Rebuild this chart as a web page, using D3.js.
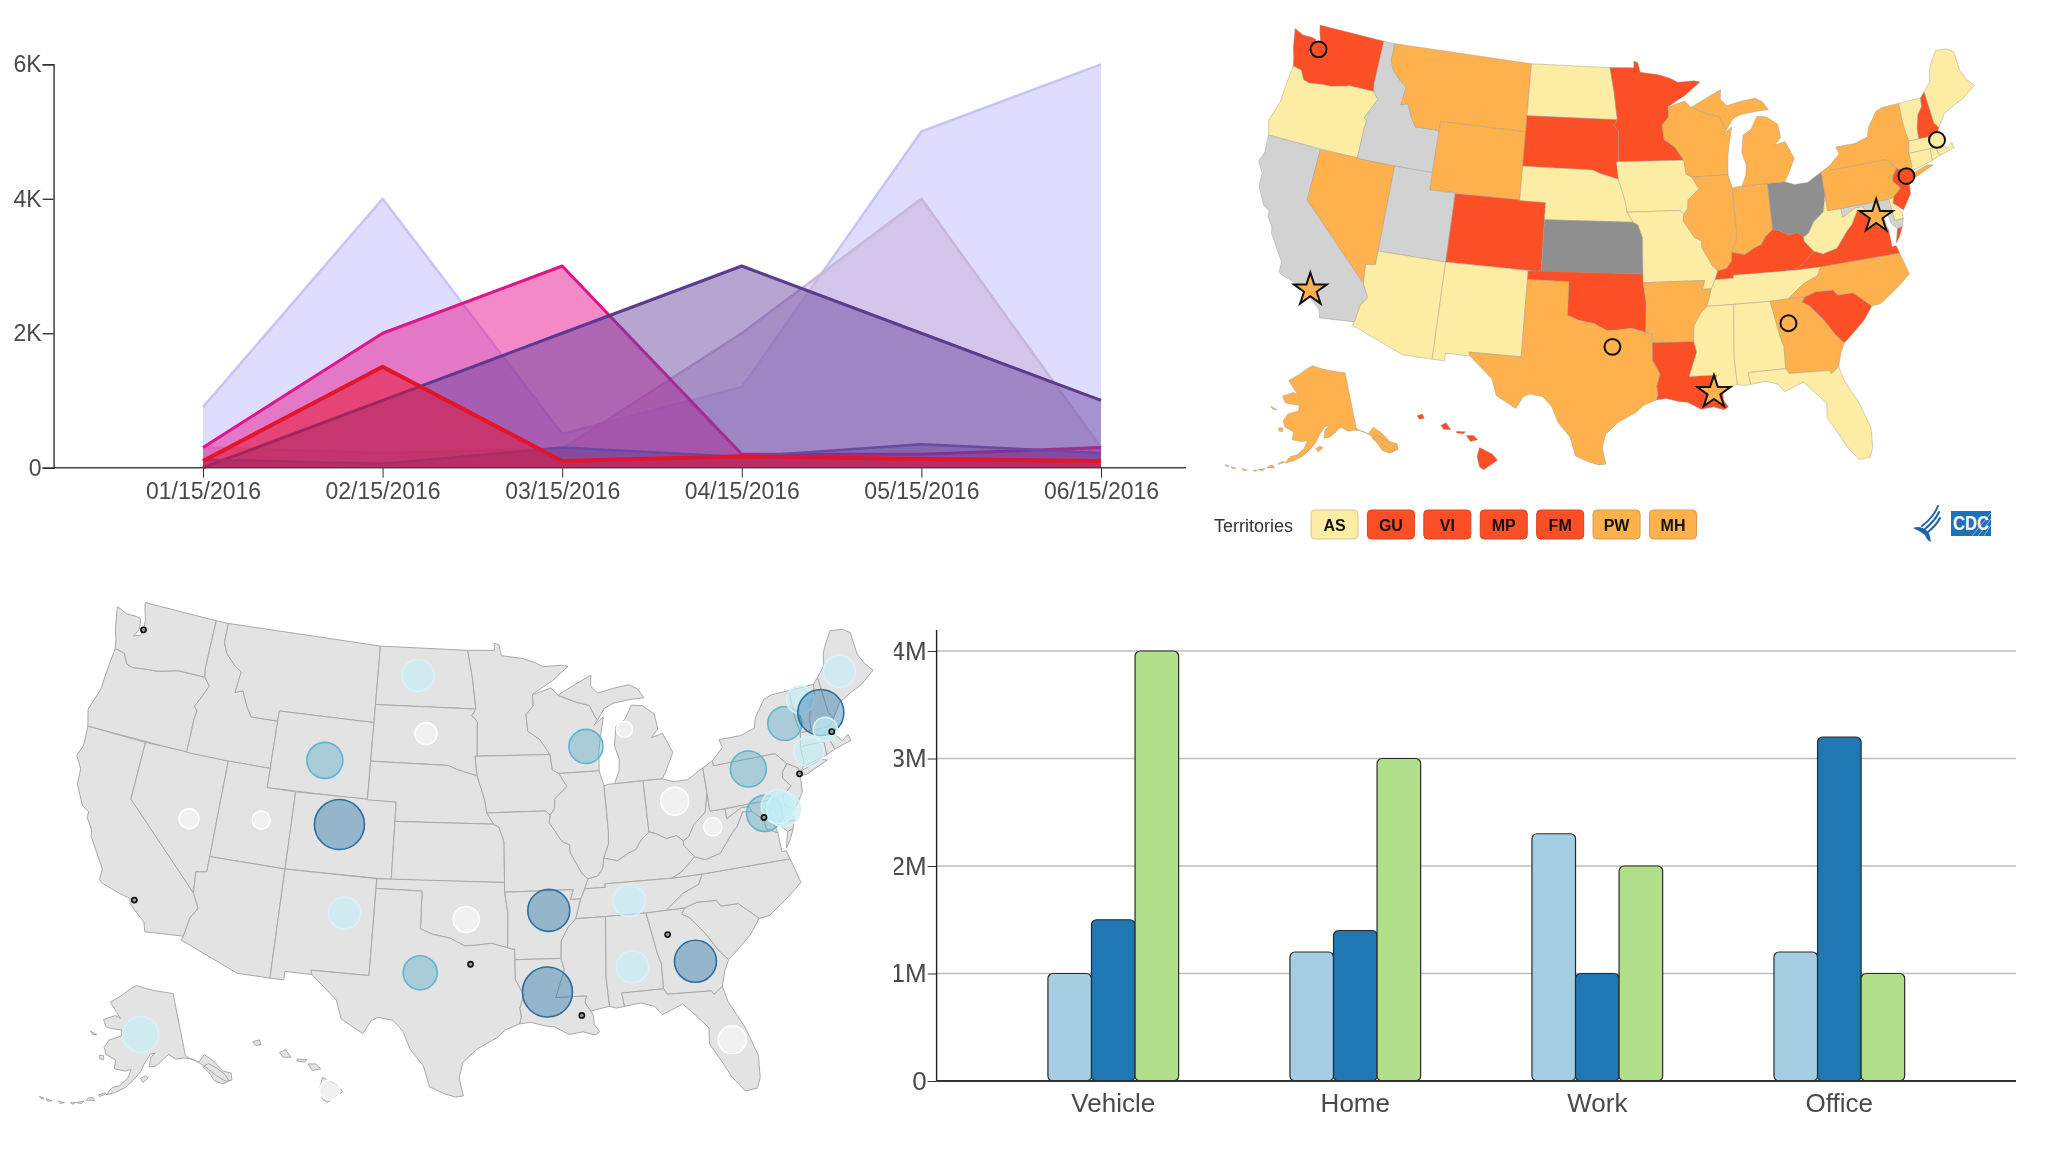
<!DOCTYPE html>
<html><head><meta charset="utf-8">
<script src="https://cdnjs.cloudflare.com/ajax/libs/d3/7.8.5/d3.min.js"></script>
<style>html,body{margin:0;padding:0;background:#fff}svg{display:block;filter:blur(.5px)}text{font-family:"Liberation Sans",Arial,sans-serif}</style>
</head><body><svg id="c" width="2048" height="1152"></svg>
<script>
// ---------- area chart data ----------
const areaDates=["01/15/2016","02/15/2016","03/15/2016","04/15/2016","05/15/2016","06/15/2016"];
const seriesLavender=[900,4000,500,1200,5000,6000];
const seriesMauve=[300,220,280,2000,4000,300];
const seriesPink=[300,2000,3000,200,200,300];
const seriesPurple=[0,1000,2000,3000,2000,1000];
const seriesViolet=[120,60,300,160,350,220];
const seriesRed=[100,1500,100,170,130,100];
const areaTicks=[0,2000,4000,6000];
// ---------- bar chart data ----------
const barCategories=["Vehicle","Home","Work","Office"];
const barLight=[1000000,1200000,2300000,1200000];
const barBlue=[1500000,1400000,1000000,3200000];
const barGreen=[4000000,3000000,2000000,1000000];
const barTicks=[0,1000000,2000000,3000000,4000000];
// ---------- territories ----------
const territoryNames=["AS","GU","VI","MP","FM","PW","MH"];
const territoryLevels=[0,2,2,2,2,1,1];
// ---------- state outlines (lon,lat) ----------
const stateRings={
WA:[[[-124.73,48.38],[-123.9,48.16],[-123.1,48.17],[-122.75,48.13],[-122.6,47.6],[-122.9,47.15],[-122.4,47.3],[-122.3,47.7],[-122.35,48.1],[-122.55,48.5],[-122.76,49],[-117.03,49],[-117.04,46.42],[-116.92,45.99],[-118.98,46],[-119.3,45.93],[-120.5,45.7],[-121.2,45.67],[-122.3,45.55],[-122.8,45.65],[-123.2,46.15],[-123.95,46.25],[-124.1,46.7],[-124.4,47.3]]],
OR:[[[-123.95,46.25],[-123.2,46.15],[-122.8,45.65],[-122.3,45.55],[-121.2,45.67],[-120.5,45.7],[-119.3,45.93],[-118.98,46],[-116.92,45.99],[-116.46,45.6],[-116.85,44.95],[-117.2,44.4],[-116.95,44.2],[-117.03,43.8],[-117.03,42],[-124.21,42],[-124.55,42.84],[-124.1,44],[-124.05,45.2]]],
CA:[[[-124.21,42],[-120,42],[-120,39],[-114.63,35],[-114.15,34.27],[-114.55,33.7],[-114.72,32.72],[-117.12,32.53],[-117.3,33],[-118.4,33.75],[-118.5,34.03],[-119.2,34.15],[-120.47,34.45],[-120.65,34.6],[-120.65,35.15],[-121.9,36.6],[-122,36.96],[-122.5,37.5],[-122.5,37.8],[-123,38],[-123.75,39],[-123.83,39.8],[-124.35,40.4],[-124.1,41]]],
NV:[[[-120,42],[-114.04,42],[-114.05,37],[-114.05,36.2],[-114.75,36.1],[-114.63,35],[-120,39]]],
ID:[[[-117.03,49],[-116.05,49],[-116.05,48],[-115.7,47.45],[-114.9,46.9],[-114.35,46.65],[-114.5,45.55],[-113.95,45.7],[-113.45,44.95],[-113,44.45],[-111.05,44.47],[-111.05,42],[-114.04,42],[-117.03,42],[-117.03,43.8],[-116.95,44.2],[-117.2,44.4],[-116.85,44.95],[-116.46,45.6],[-116.92,45.99],[-117.04,46.42]]],
MT:[[[-116.05,49],[-104.05,49],[-104.05,45],[-111.05,45],[-111.05,44.47],[-113,44.45],[-113.45,44.95],[-113.95,45.7],[-114.5,45.55],[-114.35,46.65],[-114.9,46.9],[-115.7,47.45],[-116.05,48]]],
WY:[[[-111.05,45],[-104.05,45],[-104.05,41],[-111.05,41]]],
UT:[[[-114.04,42],[-111.05,42],[-111.05,41],[-109.05,41],[-109.05,37],[-114.05,37]]],
AZ:[[[-114.05,37],[-109.05,37],[-109.05,31.33],[-111.07,31.33],[-114.81,32.5],[-114.72,32.72],[-114.55,33.7],[-114.15,34.27],[-114.63,35],[-114.75,36.1],[-114.05,36.2]]],
CO:[[[-109.05,41],[-102.05,41],[-102.05,37],[-109.05,37]]],
NM:[[[-109.05,37],[-103,37],[-103.04,32],[-106.62,32],[-106.53,31.78],[-108.2,31.78],[-108.2,31.33],[-109.05,31.33]]],
ND:[[[-104.05,49],[-97.23,49],[-96.85,47.6],[-96.56,45.94],[-104.05,45.94]]],
SD:[[[-104.05,45.94],[-96.56,45.94],[-96.85,45.6],[-96.45,45.3],[-96.45,43.5],[-96.6,43.5],[-96.45,42.49],[-97.9,42.8],[-98.5,43],[-104.05,43]]],
NE:[[[-104.05,43],[-98.5,43],[-97.9,42.8],[-96.45,42.49],[-96.1,41.7],[-95.9,41.2],[-95.77,40.58],[-95.31,40],[-102.05,40],[-102.05,41],[-104.05,41]]],
KS:[[[-102.05,40],[-95.31,40],[-94.95,39.85],[-94.61,39.1],[-94.62,37],[-102.05,37]]],
OK:[[[-103,37],[-94.62,37],[-94.62,36.5],[-94.43,35.4],[-94.48,33.64],[-95.5,33.88],[-96.5,33.78],[-97.2,33.75],[-98.1,34.13],[-99.2,34.3],[-100,34.56],[-100,36.5],[-103,36.5]]],
TX:[[[-103,36.5],[-100,36.5],[-100,34.56],[-99.2,34.3],[-98.1,34.13],[-97.2,33.75],[-96.5,33.78],[-95.5,33.88],[-94.48,33.64],[-94.04,33.55],[-94.04,33.02],[-94.04,32],[-93.55,31.2],[-93.8,30.5],[-93.72,30.05],[-93.84,29.7],[-94.7,29.4],[-95.2,29],[-96.4,28.4],[-97.2,27.7],[-97.4,26.9],[-97.15,25.96],[-97.6,25.9],[-98.2,26.05],[-99.1,26.4],[-99.5,27.5],[-100.3,28.3],[-100.8,29.25],[-101.4,29.77],[-102.3,29.88],[-102.7,29.7],[-103.15,28.98],[-104.5,29.65],[-104.9,30.6],[-106.53,31.78],[-106.62,32],[-103.04,32]]],
MN:[[[-97.23,49],[-95.15,49],[-95.15,49.38],[-94.8,49.3],[-94.6,48.72],[-93,48.55],[-92,48.3],[-91.4,48.07],[-90,48.1],[-89.5,48],[-90.8,47.3],[-92.1,46.75],[-92.3,46.65],[-92.29,46.07],[-92.85,45.6],[-92.75,44.75],[-91.9,44.3],[-91.22,43.5],[-96.45,43.5],[-96.45,45.3],[-96.85,45.6],[-96.56,45.94],[-96.85,47.6]]],
IA:[[[-96.6,43.5],[-91.22,43.5],[-91.1,42.7],[-90.65,42.5],[-90.15,41.8],[-91.05,41.2],[-91.1,40.7],[-91.42,40.38],[-91.73,40.61],[-95.77,40.58],[-95.9,41.2],[-96.1,41.7],[-96.45,42.49]]],
MO:[[[-95.77,40.58],[-91.73,40.61],[-91.42,40.38],[-91.5,40],[-90.7,39],[-90.2,38.8],[-90.2,38.4],[-89.5,37.3],[-89.15,37],[-89.4,36.5],[-89.7,36],[-90.37,36],[-90.15,36.5],[-94.62,36.5],[-94.62,37],[-94.61,39.1],[-94.95,39.85],[-95.31,40]]],
AR:[[[-94.62,36.5],[-90.15,36.5],[-90.37,36],[-89.7,36],[-90.1,35],[-90.6,34.6],[-91.1,33.9],[-91.17,33],[-94.04,33.02],[-94.04,33.55],[-94.48,33.64],[-94.43,35.4]]],
LA:[[[-94.04,33.02],[-91.17,33],[-91,32.4],[-91.6,31],[-89.73,31],[-89.85,30.65],[-89.55,30.2],[-89.4,29.95],[-89.4,29.5],[-89.1,29.1],[-89.4,28.95],[-90.1,29.15],[-90.9,29.05],[-91.8,29.5],[-92.3,29.55],[-93.2,29.77],[-93.84,29.7],[-93.72,30.05],[-93.8,30.5],[-93.55,31.2],[-94.04,32]]],
WI:[[[-92.29,46.07],[-92.3,46.65],[-92,46.7],[-90.9,46.95],[-90.4,46.55],[-89.1,46.13],[-88.1,45.9],[-87.8,45.35],[-87.6,45.1],[-87.9,44.85],[-87.15,45.25],[-87.45,44.4],[-87.7,43.5],[-87.8,42.49],[-90.65,42.5],[-91.1,42.7],[-91.22,43.5],[-91.9,44.3],[-92.75,44.75],[-92.85,45.6]]],
IL:[[[-90.65,42.5],[-87.8,42.49],[-87.55,41.7],[-87.53,39.35],[-87.6,38.7],[-88,38],[-88.1,37.5],[-88.5,37.1],[-89.15,37],[-89.5,37.3],[-90.2,38.4],[-90.2,38.8],[-90.7,39],[-91.5,40],[-91.42,40.38],[-91.1,40.7],[-91.05,41.2],[-90.15,41.8]]],
IN:[[[-87.55,41.7],[-87.2,41.76],[-86.8,41.76],[-84.8,41.76],[-84.81,39.1],[-85.4,38.73],[-85.8,38.28],[-86.3,38.15],[-87.1,37.8],[-88,38],[-87.6,38.7],[-87.53,39.35]]],
OH:[[[-84.8,41.76],[-83.45,41.73],[-82.7,41.5],[-81.7,41.5],[-80.52,41.98],[-80.52,40.64],[-80.85,39.7],[-81.7,39.2],[-82.2,38.6],[-82.6,38.42],[-83,38.73],[-83.7,38.65],[-84.3,38.95],[-84.81,39.1]]],
MI:[[[-84.8,41.76],[-86.8,41.76],[-86.4,42.4],[-86.3,43],[-86.55,43.7],[-86.3,44.7],[-85.6,45],[-85,45.7],[-84.2,45.6],[-83.4,45.1],[-83.3,44.3],[-83.85,43.9],[-83,44.05],[-82.45,43],[-82.9,42.4],[-83.15,42.05],[-83.45,41.73]],[[-90.4,46.55],[-89.1,46.13],[-88.1,45.9],[-87.8,45.35],[-87.6,45.1],[-87,45.7],[-86.3,45.9],[-85,46],[-84,46],[-84.4,46.5],[-85,46.77],[-86.2,46.67],[-87.4,46.5],[-87.9,46.9],[-87.8,47.47],[-88.9,47.1]]],
KY:[[[-89.4,36.5],[-88.05,36.5],[-88.07,36.68],[-83.68,36.6],[-83,36.85],[-82,37.53],[-82.6,38.17],[-82.6,38.42],[-83,38.73],[-83.7,38.65],[-84.3,38.95],[-84.81,39.1],[-85.4,38.73],[-85.8,38.28],[-86.3,38.15],[-87.1,37.8],[-88,38],[-88.1,37.5],[-88.5,37.1],[-89.15,37]]],
TN:[[[-90.1,35],[-89.7,36],[-89.4,36.5],[-88.05,36.5],[-88.07,36.68],[-83.68,36.6],[-81.68,36.59],[-82,36.1],[-83.1,35.75],[-84.3,35],[-85.6,34.98],[-88.2,35]]],
MS:[[[-90.1,35],[-88.2,35],[-88.47,31.9],[-88.4,30.37],[-89.55,30.2],[-89.85,30.65],[-89.73,31],[-91.6,31],[-91,32.4],[-91.17,33],[-91.1,33.9],[-90.6,34.6]]],
AL:[[[-88.2,35],[-85.6,34.98],[-85.18,32.87],[-85,32.3],[-85.05,31],[-87.6,31],[-87.5,30.3],[-88,30.25],[-88.4,30.37],[-88.47,31.9]]],
GA:[[[-85.6,34.98],[-84.3,35],[-83.1,35],[-83.35,34.7],[-82.9,34.48],[-82,33.5],[-81.4,32.6],[-80.87,32.03],[-81.2,31.5],[-81.5,30.72],[-82.05,30.37],[-82.2,30.57],[-84.86,30.7],[-85.05,31],[-85,32.3],[-85.18,32.87]]],
FL:[[[-87.6,31],[-85.05,31],[-84.86,30.7],[-82.2,30.57],[-82.05,30.37],[-81.5,30.72],[-81.3,29.9],[-80.55,28.45],[-80.05,26.9],[-80.15,25.75],[-80.4,25.2],[-81.1,25.15],[-81.75,26],[-82.2,26.9],[-82.75,27.85],[-82.65,28.7],[-83.4,29.5],[-84,30.1],[-85.3,29.68],[-85.7,30.15],[-86.5,30.4],[-87.5,30.3]]],
SC:[[[-83.1,35],[-83.35,34.7],[-82.9,34.48],[-82,33.5],[-81.4,32.6],[-80.87,32.03],[-80.45,32.3],[-79.3,33.1],[-78.55,33.86],[-79.7,34.8],[-80.8,34.82],[-81.05,35.15],[-82.3,35.2]]],
NC:[[[-81.68,36.59],[-75.87,36.55],[-75.5,35.25],[-76.5,34.65],[-77.9,33.9],[-78.55,33.86],[-79.7,34.8],[-80.8,34.82],[-81.05,35.15],[-82.3,35.2],[-83.1,35],[-84.3,35],[-83.1,35.75],[-82,36.1]]],
VA:[[[-83.68,36.6],[-81.68,36.59],[-75.87,36.55],[-76,37],[-76.3,37],[-76.3,37.6],[-76.3,38],[-77,38.3],[-77.05,38.8],[-77.5,39.13],[-77.72,39.32],[-78.35,39.4],[-78.9,38.7],[-79.3,38.42],[-80.3,37.5],[-81.35,37.3],[-82,37.53],[-83,36.85]],[[-75.95,37.15],[-75.65,37.95],[-75.25,38.03],[-75.6,37.5]]],
WV:[[[-82.6,38.42],[-82.2,38.6],[-81.7,39.2],[-80.85,39.7],[-80.52,40.64],[-80.52,39.72],[-79.48,39.72],[-79.48,39.2],[-78.4,39.62],[-77.83,39.6],[-77.72,39.32],[-78.35,39.4],[-78.9,38.7],[-79.3,38.42],[-80.3,37.5],[-81.35,37.3],[-82,37.53],[-82.6,38.17]]],
MD:[[[-79.48,39.72],[-75.79,39.72],[-75.7,38.46],[-75.05,38.45],[-75.25,38.03],[-75.65,37.95],[-76,38.3],[-76.2,39.2],[-76.5,39.2],[-76.4,38.3],[-76.3,38],[-77,38.3],[-77.05,38.8],[-77.5,39.13],[-77.72,39.32],[-77.83,39.6],[-78.4,39.62],[-79.48,39.2]]],
DE:[[[-75.79,39.72],[-75.4,39.8],[-75.55,39.45],[-75.05,38.8],[-75.05,38.45],[-75.7,38.46]]],
PA:[[[-80.52,41.98],[-79.76,42.27],[-79.76,42],[-75.35,42],[-74.7,41.36],[-75.13,40.97],[-75.2,40.68],[-74.75,40.2],[-75.4,39.8],[-75.79,39.72],[-79.48,39.72],[-80.52,39.72],[-80.52,40.64]]],
NY:[[[-79.76,42],[-79.76,42.27],[-78.9,42.85],[-79.05,43.27],[-77.5,43.27],[-76.4,43.5],[-76.2,44],[-75.3,44.85],[-74.7,45],[-73.35,45],[-73.4,43.6],[-73.27,42.75],[-73.5,42.05],[-73.5,41.3],[-73.65,41],[-74,40.7],[-74,41],[-74.7,41.36],[-75.35,42]],[[-74.03,40.6],[-73.75,40.85],[-72.3,41.15],[-71.9,41.05],[-73.5,40.6]]],
NJ:[[[-74.7,41.36],[-74,41],[-74,40.45],[-74.1,39.75],[-74.9,38.93],[-75.55,39.45],[-75.4,39.8],[-74.75,40.2],[-75.2,40.68],[-75.13,40.97]]],
CT:[[[-73.5,42.05],[-71.8,42.02],[-71.85,41.32],[-73.65,41],[-73.5,41.3]]],
RI:[[[-71.8,42.02],[-71.38,42.02],[-71.2,41.5],[-71.85,41.32]]],
MA:[[[-73.5,42.05],[-73.27,42.75],[-72.46,42.73],[-71.3,42.7],[-70.85,42.87],[-70.6,42.65],[-71,42.3],[-70.55,41.8],[-70.05,42.05],[-69.95,41.7],[-71.2,41.5],[-71.38,42.02],[-71.8,42.02]]],
VT:[[[-73.35,45],[-71.5,45.01],[-71.6,44.5],[-72.05,44.1],[-72.4,43.3],[-72.46,42.73],[-73.27,42.75],[-73.4,43.6]]],
NH:[[[-71.5,45.01],[-71.08,45.3],[-70.98,43.4],[-70.7,43.07],[-70.85,42.87],[-71.3,42.7],[-72.46,42.73],[-72.4,43.3],[-72.05,44.1],[-71.6,44.5]]],
ME:[[[-71.08,45.3],[-70.4,45.8],[-70.25,46.3],[-70,46.7],[-69.23,47.46],[-68.3,47.35],[-67.8,47.07],[-67.78,45.9],[-67.45,45.3],[-67,44.85],[-68.2,44.3],[-69,44.1],[-70,43.75],[-70.7,43.07],[-70.98,43.4]]],
AK:[[[-141,69.65],[-141,60.3],[-139.7,59.6],[-137.5,58.9],[-135.5,59.75],[-133.4,58.4],[-131.8,56.6],[-130,55.9],[-130.4,54.9],[-132,55],[-134,56.3],[-135.5,57.5],[-136.5,58.2],[-139,59.5],[-141.5,59.95],[-144,60],[-146,60.8],[-148.2,60],[-150,59.3],[-151.9,59.2],[-151.5,60.6],[-150,61.2],[-151.5,61.1],[-153.5,59.6],[-154.5,58.5],[-156.5,57.2],[-158.5,56.1],[-161,55.2],[-163.3,54.7],[-162,55.9],[-160,56.3],[-158,57.5],[-157.2,58.8],[-159,58.5],[-162,58.7],[-162,60],[-165,60.6],[-166,61.6],[-164.8,62.8],[-161,63.6],[-161,64.5],[-164,64.5],[-166.5,64.6],[-168,65.6],[-164,66.5],[-162,66.2],[-163.7,67],[-166.8,68.35],[-163,69.5],[-159,70.8],[-156.5,71.3],[-152,70.8],[-148,70.4],[-144,70]],[[-136.8,58.1],[-135.6,57],[-134.8,55.6],[-133,54.8],[-131.2,54.9],[-131.6,56],[-133.2,57.3],[-135,58.3]],[[-154.5,57.5],[-153.2,57.9],[-152.3,57.6],[-153.8,56.9]],[[-163.5,54.8],[-165,54.3],[-165.2,54.5],[-163.7,55]],[[-168,53.4],[-166,53.6],[-166.5,54],[-167.6,53.8]],[[-170.2,52.75],[-168.5,53.2],[-169,52.75]],[[-174.6,52.2],[-173,52.25],[-174,51.95]],[[-177.5,51.95],[-176,51.95],[-177,51.7]],[[-179.2,51.9],[-178,51.9],[-178.6,51.7]],[[-171.6,52.5],[-170.4,52.7],[-171,52.35]],[[-167,60.3],[-165.7,60.4],[-165.5,59.8],[-166.8,59.8]],[[-171.5,63.5],[-169,63.2],[-170.5,63.1]]],
HI:[[[-155.9,20.25],[-155.1,19.85],[-154.8,19.5],[-155.65,18.95],[-155.9,19.1],[-156.05,19.7]],[[-156.7,20.95],[-156.25,20.95],[-156,20.7],[-156.45,20.6]],[[-158.27,21.55],[-157.95,21.7],[-157.65,21.3],[-158.1,21.3]],[[-159.75,22.1],[-159.4,22.2],[-159.3,21.95],[-159.6,21.9]],[[-157.3,21.2],[-156.75,21.17],[-156.9,21.05],[-157.3,21.1]]]
};
// ---------- top map: activity level per state ----------
const statesCream=["OR","ND","NE","IA","MO","AZ","NM","TN","MS","AL","FL","WV","ME","VT","CT","MA","RI","DE"];
const statesOrange=["MT","WY","NV","TX","AR","WI","MI","IL","IN","NY","PA","NC","GA","AK"];
const statesRed=["WA","SD","MN","CO","OK","LA","KY","VA","SC","NJ","NH","HI"];
const statesLightGrey=["ID","UT","CA","MD"];
const statesDarkGrey=["KS","OH"];
const circleCoords=[[-122.3,47.6],[-71.1,42.4],[-74.1,40.8],[-84.5,33.6],[-96.8,32.8]];
const circleStates=["WA","MA","NJ","GA","TX"];
const starCoords=[[-118.2,34],[-77,38.9],[-90,30]];
// ---------- bottom map bubbles ----------
const bubbleCoords=[[-69.4,45.3],[-101,47.6],[-107.3,42.8],[-100.2,44.6],[-105.8,39.6],[-115.9,38.7],[-111.1,39.3],[-88.6,43.8],[-85.7,44.5],[-82.8,40.5],[-80.5,38.9],[-77.4,41.5],[-74.2,43.4],[-72.7,44.4],[-71.5,43.5],[-71.5,42.6],[-73,41.7],[-76.9,39.1],[-75.6,39.1],[-75.9,39.3],[-86.6,35.7],[-91.8,35.5],[-97.1,35.1],[-104.9,35.1],[-99.9,32.3],[-92.1,31.3],[-86.8,32.3],[-82.9,32.2],[-81.4,27.9],[-154.5,64],[-155.5,19.6]];
const bubbleValues=[256,256,324,121,625,100,81,289,64,196,81,324,289,196,529,144,225,324,289,289,256,441,169,256,289,625,256,441,196,324,100];
const bubbleTiers=[1,1,2,0,3,0,0,2,0,0,0,2,2,1,3,1,1,2,1,1,1,3,0,1,2,3,1,3,0,1,0];
const ringCoords=[[-122.3,47.6],[-118.2,34],[-74,40.7],[-84.4,33.75],[-96.8,32.8],[-90.1,30],[-77,38.9],[-71.1,42.4]];

const svg=d3.select("#c");
const GREY="#4a4a4a";
const lev=["#fdeca3","#ffb14e","#fd4f26"];
const levStroke=["#d8c88c","#d99a45","#d8451f"];

// ===== area chart =====
(function(){
  const x=d3.scalePoint().domain(areaDates).range([203,1101]);
  const y=d3.scaleLinear().domain([0,6000]).range([467.7,64.3]);
  const g=svg.append("g");
  const layers=[[seriesLavender,"#c0bcfb","#c6c4f6",.5,2.5],[seriesMauve,"#c8b0d8","#c9b6d8",.5,2.5],[seriesPink,"#e7138f","#df158b",.5,3],[seriesPurple,"#63409c","#5b3a90",.47,3],[seriesViolet,"#5b3a90","#6a4aa0",.4,2.5],[seriesRed,"#e8112d","#e3152b",.5,4]];
  const area=d3.area().x((d,i)=>x(areaDates[i])).y0(y(0)).y1(d=>y(d));
  const line=d3.line().x((d,i)=>x(areaDates[i])).y(d=>y(d));
  layers.forEach(([s,f,st,o,w])=>{
    g.append("path").attr("d",area(s)).attr("fill",f).attr("fill-opacity",o);
    g.append("path").attr("d",line(s)).attr("fill","none").attr("stroke",st).attr("stroke-width",w).attr("stroke-linejoin","round");
  });
  const ax=g.append("g").attr("transform","translate(0,467.7)").call(d3.axisBottom(x).tickSize(10).tickSizeOuter(0).tickPadding(5));
  ax.select(".domain").remove();
  ax.selectAll("line").attr("stroke","#333");
  ax.selectAll("text").attr("font-size",23).attr("fill",GREY);
  g.append("line").attr("x1",53.6).attr("x2",1186).attr("y1",467.7).attr("y2",467.7).attr("stroke","#444").attr("stroke-width",1.6);
  const ay=g.append("g").attr("transform","translate(53.6,0)").call(d3.axisLeft(y).tickValues(areaTicks).tickSize(11).tickPadding(1).tickFormat(d=>d?d/1000+"K":"0"));
  ay.select(".domain").attr("stroke","#333").attr("stroke-width",1.4);
  ay.selectAll("line").attr("stroke","#333").attr("stroke-width",1.4);
  ay.selectAll("text").attr("font-size",23).attr("fill",GREY);
})();

// ===== maps =====
function features(){
  return Object.keys(stateRings).map(k=>{
    const polys=stateRings[k].map(r=>{
      let ring=r.concat([r[0]]);
      if(d3.geoArea({type:"Polygon",coordinates:[ring]})>2*Math.PI) ring=ring.slice().reverse();
      return [ring];
    });
    return {type:"Feature",id:k,geometry:{type:"MultiPolygon",coordinates:polys}};
  });
}
const geo=features();

// top map
(function(){
  const proj=d3.geoAlbersUsa().scale(993).translate([1616,247]);
  const path=d3.geoPath(proj);
  const col=id=>statesCream.includes(id)?lev[0]:statesOrange.includes(id)?lev[1]:statesRed.includes(id)?lev[2]:statesLightGrey.includes(id)?"#d2d2d2":statesDarkGrey.includes(id)?"#8f8f8f":"#d2d2d2";
  const g=svg.append("g").attr("transform","translate(0,23) scale(1,.99) translate(0,-23)");
  g.selectAll("path").data(geo).join("path").attr("d",path).attr("fill",d=>col(d.id)).attr("stroke","#9a9a8a").attr("stroke-opacity",.55).attr("stroke-width",.8);
  g.selectAll("circle").data(circleCoords).join("circle")
    .attr("cx",d=>proj(d)[0]).attr("cy",d=>proj(d)[1]).attr("r",8)
    .attr("fill",(d,i)=>col(circleStates[i])).attr("stroke","#111").attr("stroke-width",2);
  g.selectAll("path.star").data(starCoords).join("path").attr("class","star")
    .attr("d",d3.symbol(d3.symbolStar,340)())
    .attr("transform",d=>`translate(${proj(d)})`)
    .attr("fill","#ffb14e").attr("stroke","#111").attr("stroke-width",2);
})();

// territories
(function(){
  const x=d3.scalePoint().domain(territoryNames).range([1311,1649.5]);
  const g=svg.append("g");
  g.append("text").attr("x",1214).attr("y",532).attr("font-size",18).attr("fill","#333").text("Territories");
  const b=g.selectAll("g").data(territoryNames).join("g").attr("transform",d=>`translate(${x(d)},510)`);
  b.append("rect").attr("width",47).attr("height",29).attr("rx",4).attr("fill",(d,i)=>lev[territoryLevels[i]]).attr("stroke",(d,i)=>levStroke[territoryLevels[i]]).attr("stroke-width",1);
  b.append("text").attr("x",23.5).attr("y",21).attr("text-anchor","middle").attr("font-size",16).attr("font-weight","bold").attr("fill","#111").text(d=>d);
  // CDC logo
  const l=g.append("g");
  l.append("rect").attr("x",1951).attr("y",511).attr("width",40).attr("height",25).attr("fill","#1c71b8");
  ["M1984 536L1991 525","M1978 536L1991 519","M1972 536L1991 513"].forEach(d=>l.append("path").attr("d",d).attr("stroke","#9cc8ea").attr("stroke-width",.8).attr("fill","none"));
  l.append("text").attr("x",1971).attr("y",530).attr("text-anchor","middle").attr("font-size",21).attr("font-family","Liberation Serif").attr("font-weight","bold").attr("fill","#fff").attr("textLength",36).attr("lengthAdjust","spacingAndGlyphs").text("CDC");
  ["M1938 506C1935 514 1930 520 1922 526","M1939 512C1936 519 1931 524 1925 529","M1940 518C1937 524 1933 528 1928 532"].forEach(d=>l.append("path").attr("d",d).attr("stroke","#1c62a8").attr("stroke-width",2).attr("fill","none").attr("stroke-linecap","round"));
  l.append("path").attr("d","M1913 528C1918 526 1922 527 1926 530C1930 533 1930 537 1931 542C1928 541 1926 538 1925 535C1922 533 1918 530 1913 528Z").attr("fill","#1c62a8");
})();

// bottom map
(function(){
  const proj=d3.geoAlbersUsa().scale(1105).translate([474.5,849.5]);
  const path=d3.geoPath(proj);
  const g=svg.append("g");
  g.selectAll("path").data(geo).join("path").attr("d",path).attr("fill","#e3e3e3").attr("stroke","#a8a8a8").attr("stroke-width",1);
  const r=d3.scaleSqrt().domain([0,625]).range([0,25]);
  const fills=["#ffffff","#c5f0f8","#4ba9c8","#2171a8"],fo=[.5,.65,.38,.4],strokes=["#ffffff","#d8f1f6","#62b5cf","#2a6f9e"];
  g.selectAll("circle.b").data(bubbleCoords).join("circle").attr("class","b")
    .attr("cx",d=>proj(d)[0]).attr("cy",d=>proj(d)[1]).attr("r",(d,i)=>r(bubbleValues[i]))
    .attr("fill",(d,i)=>fills[bubbleTiers[i]]).attr("fill-opacity",(d,i)=>fo[bubbleTiers[i]])
    .attr("stroke",(d,i)=>strokes[bubbleTiers[i]]).attr("stroke-width",1.6);
  g.selectAll("circle.r").data(ringCoords).join("circle").attr("class","r")
    .attr("cx",d=>proj(d)[0]).attr("cy",d=>proj(d)[1]).attr("r",2.6)
    .attr("fill","#999").attr("stroke","#111").attr("stroke-width",1.6);
})();

// ===== bar chart =====
(function(){
  const defs=svg.append("defs");
  defs.append("clipPath").attr("id","barClip").append("rect").attr("x",894).attr("y",600).attr("width",1154).attr("height",552);
  const g=svg.append("g").attr("clip-path","url(#barClip)");
  const x0=d3.scaleBand().domain(barCategories).range([936.6,2016]).padding(.46);
  const keys=[barLight,barBlue,barGreen],cols=["#a6cee3","#1f78b4","#b2df8a"];
  const x1=d3.scaleBand().domain([0,1,2]).range([0,x0.bandwidth()]);
  const y=d3.scaleLinear().domain([0,4000000]).range([1081,651]);
  const ay=g.append("g").attr("transform","translate(936.6,0)").call(d3.axisLeft(y).tickValues(barTicks).tickSize(9).tickPadding(1).tickFormat(d=>d?d/1e6+"M":"0"));
  ay.select(".domain").remove();
  ay.selectAll("line").attr("stroke","#333");
  ay.selectAll("text").attr("font-size",26).attr("fill",GREY);
  g.append("g").selectAll("line").data(barTicks.slice(1)).join("line").attr("x1",936.6).attr("x2",2016).attr("y1",d=>y(d)).attr("y2",d=>y(d)).attr("stroke","#bdbdbd").attr("stroke-width",1.6);
  barCategories.forEach((c,i)=>{
    keys.forEach((s,k)=>{
      g.append("rect").attr("x",x0(c)+x1(k)).attr("y",y(s[i])).attr("width",x1.bandwidth()).attr("height",y(0)-y(s[i])).attr("rx",5)
       .attr("fill",cols[k]).attr("stroke","#2a2a2a").attr("stroke-width",1.2);
    });
  });
  const ax=g.append("g").attr("transform","translate(0,1081)").call(d3.axisBottom(x0).tickSize(0).tickPadding(13));
  ax.select(".domain").remove();
  ax.selectAll("text").attr("font-size",26).attr("fill",GREY);
  g.append("line").attr("x1",936.6).attr("x2",2016).attr("y1",1081).attr("y2",1081).attr("stroke","#333").attr("stroke-width",1.8);
  g.append("line").attr("x1",936.6).attr("x2",936.6).attr("y1",630).attr("y2",1081).attr("stroke","#222").attr("stroke-width",1.4);
})();
</script></body></html>
